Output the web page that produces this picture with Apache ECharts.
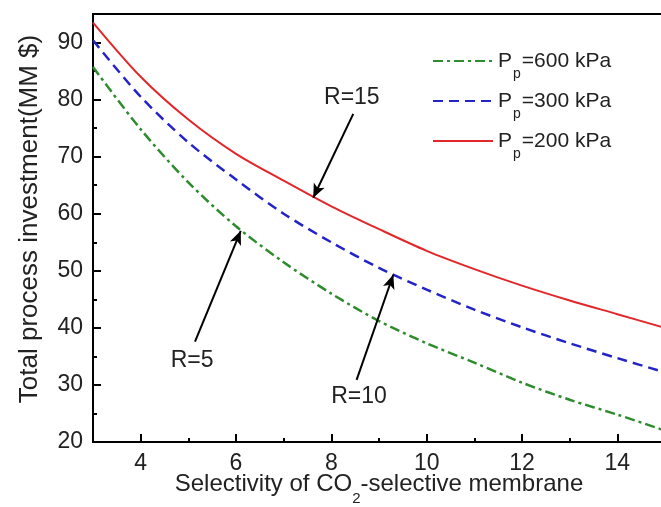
<!DOCTYPE html>
<html>
<head>
<meta charset="utf-8">
<script src="https://cdn.jsdelivr.net/npm/echarts@6/dist/echarts.min.js"></script>
<style>
  html, body { margin: 0; padding: 0; background: #fff; }
  #chart { width: 661px; height: 507px; }
</style>
</head>
<body>
<div id="chart"></div>
<script>
// selectivity values (x)
const selectivity = [3, 4, 5, 6, 7, 8, 9, 10, 11, 12, 13, 14, 15];
// total process investment (MM $) per permeate pressure
const invest600 = [85.7, 74.8, 65.5, 57.8, 51.5, 46.0, 41.2, 37.3, 33.9, 30.4, 27.4, 24.8, 22.0];
const invest300 = [90.4, 80.5, 72.5, 66.0, 60.0, 55.0, 50.5, 46.7, 43.2, 40.1, 37.3, 34.7, 32.2];
const invest200 = [93.5, 84.0, 76.5, 70.5, 65.8, 61.3, 57.3, 53.5, 50.3, 47.4, 44.8, 42.4, 40.0];
const seriesNames = ["Pp=600 kPa", "Pp=300 kPa", "Pp=200 kPa"];

const xTicks = [4, 6, 8, 10, 12, 14];
const xMinorTicks = [5, 7, 9, 11, 13, 15];
const yTicks = [20, 30, 40, 50, 60, 70, 80, 90];
const yMinorTicks = [25, 35, 45, 55, 65, 75, 85];

// annotations: label text, label position, arrow tail, arrow head
const annotLabels = ["R=15", "R=5", "R=10"];
const annotLabelPos = [[8.43, 80.4], [5.08, 34.3], [8.58, 27.9]];
const arrowFrom = [[8.46, 77.5], [5.14, 37.6], [8.53, 30.9]];
const arrowTo = [[7.62, 62.8], [6.1, 57.0], [9.3, 49.3]];

const toPairs = (ys) => selectivity.map((x, i) => [x, ys[i]]);

const chart = echarts.init(document.getElementById("chart"));
const font = "Liberation Sans, Arial, sans-serif";

const option = {
  animation: false,
  backgroundColor: "#fff",
  textStyle: { fontFamily: font, color: "#222" },
  grid: {
    left: 93,
    top: 14,
    right: -4,
    bottom: 65,
    outerBoundsMode: "none",
    show: true,
    borderColor: "#000",
    borderWidth: 2,
  },
  legend: {
    data: seriesNames,
    orient: "vertical",
    left: 427,
    top: 36,
    itemWidth: 60,
    itemHeight: 14,
    itemGap: 0,
    itemStyle: { opacity: 0 },
    formatter: (name) => "{a|P}{s|p}{a|=" + name.slice(3) + "}",
    textStyle: {
      rich: {
        a: { fontSize: 21, lineHeight: 24, verticalAlign: "middle", color: "#222", fontFamily: font },
        s: { fontSize: 14, lineHeight: 14, padding: [26, 1, 0, 1], verticalAlign: "middle", color: "#222", fontFamily: font },
      },
    },
  },
  xAxis: [
    {
      type: "value",
      min: 3,
      max: 15,
      position: "bottom",
      name: "{n|Selectivity of CO}{s|2}{n|-selective membrane}",
      nameLocation: "middle",
      nameGap: 28,
      nameMoveOverlap: false,
      nameTextStyle: {
        rich: {
          n: { fontSize: 24, lineHeight: 28, verticalAlign: "middle", color: "#222", fontFamily: font },
          s: { fontSize: 15, lineHeight: 15, padding: [30, 0, 0, 0], verticalAlign: "middle", color: "#222", fontFamily: font },
        },
      },
      axisLine: { show: true, onZero: false, lineStyle: { color: "#000", width: 2 } },
      axisTick: { show: true, inside: true, length: 8, lineStyle: { color: "#000", width: 2 }, customValues: xTicks },
      axisLabel: { show: true, margin: 10, fontSize: 23, color: "#222", customValues: xTicks },
      splitLine: { show: false },
    },
    {
      type: "value",
      min: 3,
      max: 15,
      position: "bottom",
      axisLine: { show: false },
      axisTick: { show: true, inside: true, length: 4, lineStyle: { color: "#000", width: 2 }, customValues: xMinorTicks },
      axisLabel: { show: false },
      splitLine: { show: false },
    },
  ],
  yAxis: [
    {
      type: "value",
      min: 20,
      max: 95,
      position: "left",
      name: "Total process investment(MM $)",
      nameLocation: "middle",
      nameGap: 50,
      nameMoveOverlap: false,
      nameTextStyle: { fontSize: 26, color: "#222", fontFamily: font, padding: [0, 0, 0, 18] },
      axisLine: { show: true, onZero: false, lineStyle: { color: "#000", width: 2 } },
      axisTick: { show: true, inside: true, length: 8, lineStyle: { color: "#000", width: 2 }, customValues: yTicks },
      axisLabel: { show: true, margin: 10, fontSize: 23, color: "#222", customValues: yTicks },
      splitLine: { show: false },
    },
    {
      type: "value",
      min: 20,
      max: 95,
      position: "left",
      axisLine: { show: false },
      axisTick: { show: true, inside: true, length: 4, lineStyle: { color: "#000", width: 2 }, customValues: yMinorTicks },
      axisLabel: { show: false },
      splitLine: { show: false },
    },
  ],
  series: [
    {
      name: seriesNames[0],
      type: "line",
      smooth: 0.3,
      symbol: "none",
      lineStyle: { color: "#2e8b2e", width: 2.5, type: [10, 4, 3, 4] },
      itemStyle: { color: "#2e8b2e" },
      data: toPairs(invest600),
    },
    {
      name: seriesNames[1],
      type: "line",
      smooth: 0.3,
      symbol: "none",
      lineStyle: { color: "#2323c8", width: 2.5, type: [10, 6] },
      itemStyle: { color: "#2323c8" },
      data: toPairs(invest300),
    },
    {
      name: seriesNames[2],
      type: "line",
      smooth: 0.3,
      symbol: "none",
      lineStyle: { color: "#e3262a", width: 2, type: "solid" },
      itemStyle: { color: "#e3262a" },
      data: toPairs(invest200),
    },
    {
      name: "annotations",
      type: "scatter",
      symbolSize: 0,
      silent: true,
      itemStyle: { opacity: 1 },
      label: {
        show: true,
        position: "inside",
        formatter: (p) => annotLabels[p.dataIndex],
        fontSize: 23,
        color: "#222",
        fontFamily: font,
      },
      data: annotLabelPos,
      markLine: {
        silent: true,
        symbol: ["none", "arrow"],
        symbolSize: [9, 14],
        label: { show: false },
        lineStyle: { color: "#000", width: 2, type: "solid", opacity: 1 },
        data: arrowFrom.map((from, i) => [{ coord: from }, { coord: arrowTo[i] }]),
      },
    },
  ],
};

chart.setOption(option);
</script>
</body>
</html>
